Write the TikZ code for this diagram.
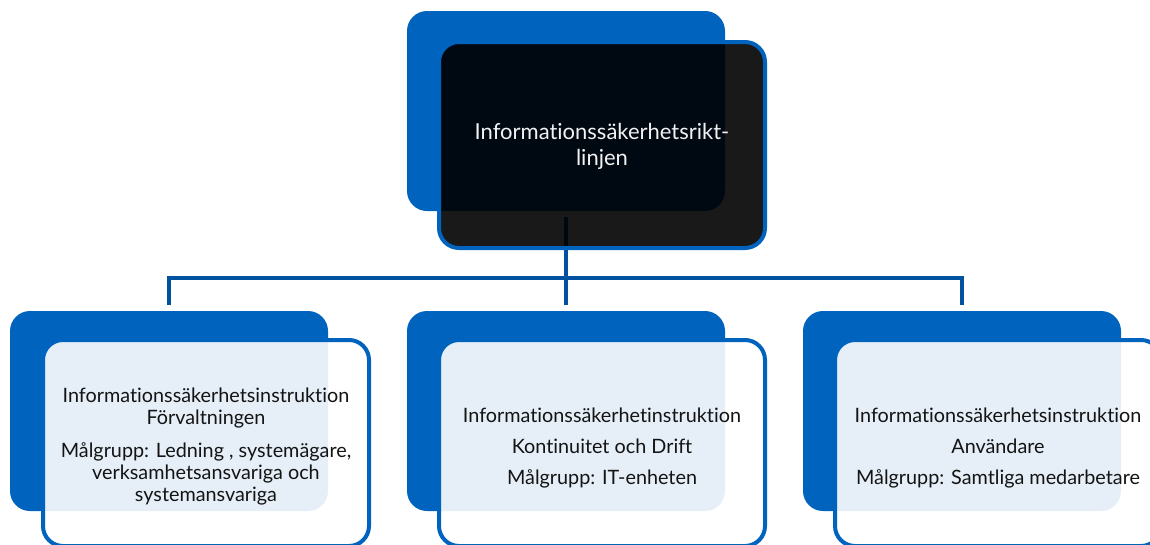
\documentclass[tikz,border=0pt]{standalone}
\usepackage{fontspec}
\setmainfont{Lato}[Ligatures=NoCommon]
\usetikzlibrary{calc}
\definecolor{boxblue}{RGB}{0,99,190}
\definecolor{linkblue}{RGB}{0,82,158}
\definecolor{txtdark}{RGB}{20,20,20}
\tikzset{
  backbox/.style={rectangle, rounded corners=20pt, fill=boxblue, draw=none,
    minimum width=318pt, minimum height=200pt, inner sep=0pt},
  frontbox/.style={rectangle, rounded corners=20pt, draw=boxblue, line width=4pt,
    fill=white, fill opacity=0.9,
    minimum width=326pt, minimum height=206pt, inner sep=0pt},
  topfront/.style={frontbox, fill=black},
  boxtext/.style={align=center, text=txtdark, inner sep=0pt,
    font=\fontsize{19.8}{22}\selectfont},
  toptext/.style={boxtext, text=gray!10, font=\fontsize{22}{26}\selectfont},
  conn/.style={draw=linkblue, line width=4.5pt}
}
\begin{document}
\begin{tikzpicture}[x=1pt,y=-1pt]
\useasboundingbox (0,0) rectangle (1150,544);
\clip (0,0) rectangle (1150,544);
% back boxes
\node[backbox] (topback) at (566,111) {};
\node[backbox] (lback) at (169,411) {};
\node[backbox] (mback) at (566,411) {};
\node[backbox] (rback) at (962,411) {};
% connectors
\coordinate (stem) at ([yshift=-6pt]topback.south);
\coordinate (bus) at (566,278);
\draw[conn] (stem) -- (bus);
\draw[conn] ([yshift=6pt]lback.north) |- (bus);
\draw[conn] ([yshift=6pt]rback.north) |- (bus);
\draw[conn] ([yshift=6pt]mback.north) -- (bus);
% front boxes
\node[topfront] (top) at (602,145) {};
\node[frontbox] (left) at (206,443) {};
\node[frontbox] (mid) at (602,443) {};
\node[frontbox] (right) at (998,443) {};
% texts
\node[toptext] (toptxt) at ([yshift=-1pt]top.center) {Informationssäkerhetsrikt-\\linjen};
\node[boxtext] (lefttxt) at ([yshift=-4pt]left.center) {Informationssäkerhetsinstruktion\\Förvaltningen\\[11pt]Målgrupp: Ledning , systemägare,\\verksamhetsansvariga och\\systemansvariga};
\node[boxtext] (midtxt) at ([yshift=-5pt]mid.center) {Informationssäkerhetinstruktion\\[9pt]Kontinuitet och Drift\\[9pt]Målgrupp: IT-enheten};
\node[boxtext] (righttxt) at ([yshift=-5pt]right.center) {Informationssäkerhetsinstruktion\\[9pt]Användare\\[9pt]Målgrupp: Samtliga medarbetare};
\end{tikzpicture}
\end{document}
